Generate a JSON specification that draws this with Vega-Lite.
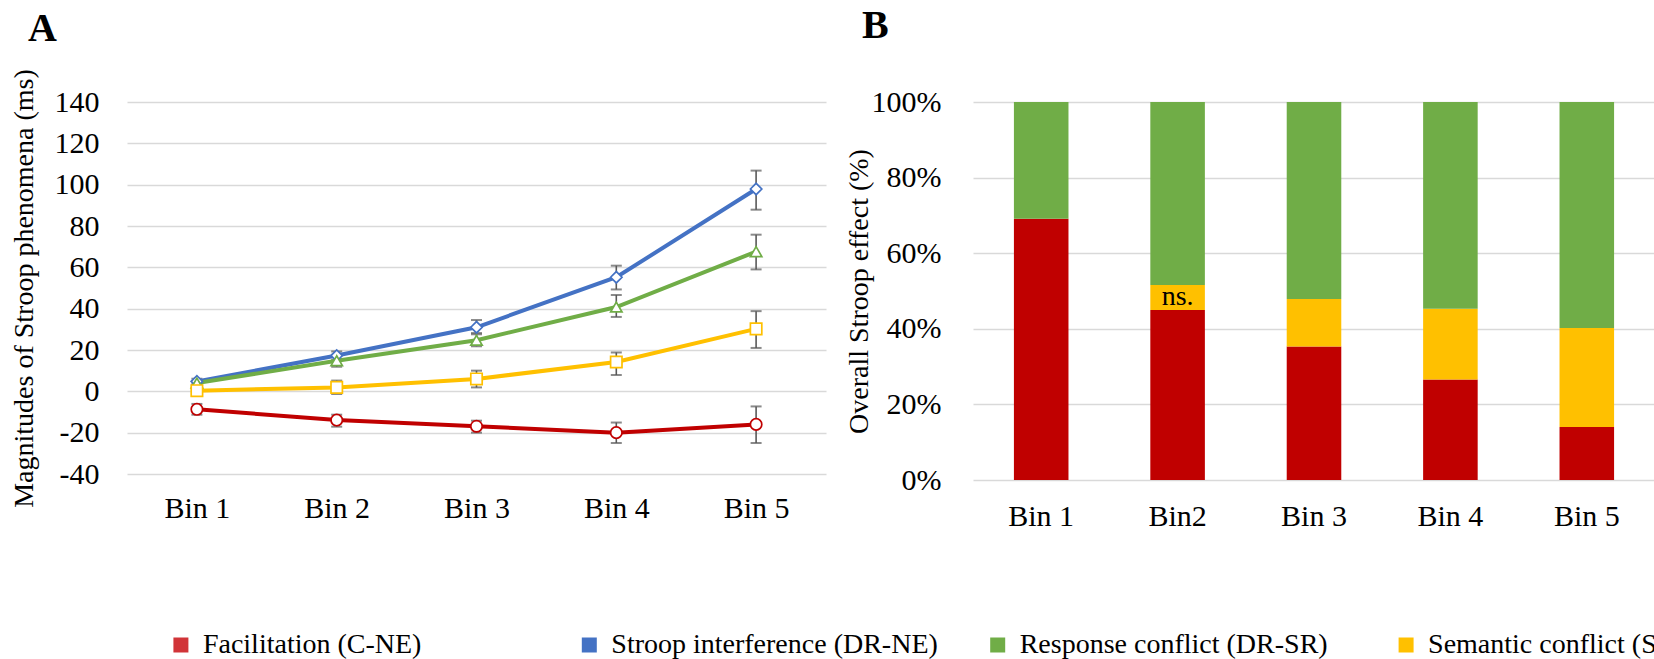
{
  "$schema": "https://vega.github.io/schema/vega-lite/v6.json",
  "padding": {"left": 10, "top": 6, "right": 0, "bottom": 0},
  "background": "white",
  "config": {
    "font": "Liberation Serif",
    "view": {"stroke": null},
    "axis": {
      "labelFont": "Liberation Serif",
      "titleFont": "Liberation Serif",
      "labelFontSize": 30,
      "titleFontSize": 28,
      "titleFontWeight": "normal",
      "labelColor": "#000000",
      "titleColor": "#000000",
      "domain": false,
      "ticks": false,
      "gridColor": "#D9D9D9",
      "gridWidth": 1.3
    },
    "title": {
      "font": "Liberation Serif",
      "fontSize": 40,
      "fontWeight": "bold",
      "anchor": "start",
      "frame": "bounds",
      "color": "#000000"
    }
  },
  "datasets": {
    "lines": [
      {"bin": "Bin 1", "series": "Facilitation (C-NE)", "value": -8.7, "lo": -11.3, "hi": -6.1},
      {"bin": "Bin 2", "series": "Facilitation (C-NE)", "value": -13.9, "lo": -17.1, "hi": -11.3},
      {"bin": "Bin 3", "series": "Facilitation (C-NE)", "value": -16.9, "lo": -20.0, "hi": -14.2},
      {"bin": "Bin 4", "series": "Facilitation (C-NE)", "value": -20.0, "lo": -25.0, "hi": -15.1},
      {"bin": "Bin 5", "series": "Facilitation (C-NE)", "value": -16.0, "lo": -25.0, "hi": -7.3},
      {"bin": "Bin 1", "series": "Stroop interference (DR-NE)", "value": 4.8, "lo": 3.5, "hi": 6.1},
      {"bin": "Bin 2", "series": "Stroop interference (DR-NE)", "value": 17.3, "lo": 15.3, "hi": 19.3},
      {"bin": "Bin 3", "series": "Stroop interference (DR-NE)", "value": 31.0, "lo": 28.2, "hi": 34.5},
      {"bin": "Bin 4", "series": "Stroop interference (DR-NE)", "value": 55.2, "lo": 49.3, "hi": 60.8},
      {"bin": "Bin 5", "series": "Stroop interference (DR-NE)", "value": 97.9, "lo": 87.9, "hi": 106.8},
      {"bin": "Bin 1", "series": "Response conflict (DR-SR)", "value": 4.0, "lo": 3.0, "hi": 5.0},
      {"bin": "Bin 2", "series": "Response conflict (DR-SR)", "value": 14.8, "lo": 11.9, "hi": 17.7},
      {"bin": "Bin 3", "series": "Response conflict (DR-SR)", "value": 24.7, "lo": 21.8, "hi": 27.6},
      {"bin": "Bin 4", "series": "Response conflict (DR-SR)", "value": 40.8, "lo": 36.0, "hi": 46.6},
      {"bin": "Bin 5", "series": "Response conflict (DR-SR)", "value": 67.6, "lo": 59.0, "hi": 75.8},
      {"bin": "Bin 1", "series": "Semantic conflict (SR-NE)", "value": 0.3, "lo": -0.8, "hi": 1.4},
      {"bin": "Bin 2", "series": "Semantic conflict (SR-NE)", "value": 1.9, "lo": -1.3, "hi": 5.2},
      {"bin": "Bin 3", "series": "Semantic conflict (SR-NE)", "value": 6.0, "lo": 1.9, "hi": 10.0},
      {"bin": "Bin 4", "series": "Semantic conflict (SR-NE)", "value": 14.2, "lo": 7.9, "hi": 18.8},
      {"bin": "Bin 5", "series": "Semantic conflict (SR-NE)", "value": 30.2, "lo": 21.0, "hi": 38.8}
    ],
    "bars": [
      {"bin": "Bin 1", "series": "Facilitation (C-NE)", "start": 0, "end": 69.1},
      {"bin": "Bin 1", "series": "Response conflict (DR-SR)", "start": 69.1, "end": 100},
      {"bin": "Bin2", "series": "Facilitation (C-NE)", "start": 0, "end": 45.0},
      {"bin": "Bin2", "series": "Semantic conflict (SR-NE)", "start": 45.0, "end": 51.6},
      {"bin": "Bin2", "series": "Response conflict (DR-SR)", "start": 51.6, "end": 100},
      {"bin": "Bin 3", "series": "Facilitation (C-NE)", "start": 0, "end": 35.3},
      {"bin": "Bin 3", "series": "Semantic conflict (SR-NE)", "start": 35.3, "end": 47.9},
      {"bin": "Bin 3", "series": "Response conflict (DR-SR)", "start": 47.9, "end": 100},
      {"bin": "Bin 4", "series": "Facilitation (C-NE)", "start": 0, "end": 26.6},
      {"bin": "Bin 4", "series": "Semantic conflict (SR-NE)", "start": 26.6, "end": 45.3},
      {"bin": "Bin 4", "series": "Response conflict (DR-SR)", "start": 45.3, "end": 100},
      {"bin": "Bin 5", "series": "Facilitation (C-NE)", "start": 0, "end": 14.0},
      {"bin": "Bin 5", "series": "Semantic conflict (SR-NE)", "start": 14.0, "end": 40.2},
      {"bin": "Bin 5", "series": "Response conflict (DR-SR)", "start": 40.2, "end": 100}
    ],
    "legendItems": [
      {"series": "Facilitation (C-NE)"},
      {"series": "Stroop interference (DR-NE)"},
      {"series": "Response conflict (DR-SR)"},
      {"series": "Semantic conflict (SR-NE)"}
    ]
  },
  "spacing": 99,
  "align": "none",
  "vconcat": [
    {
      "spacing": 19,
      "hconcat": [
        {
          "title": {"text": "A", "dx": 18, "offset": 20},
          "width": 699,
          "height": 372,
          "data": {"name": "lines"},
          "encoding": {
            "x": {
              "field": "bin",
              "type": "ordinal",
              "sort": null,
              "scale": {"type": "point", "padding": 0.5},
              "axis": {"title": null, "labelAngle": 0, "labelPadding": 19, "grid": false}
            }
          },
          "layer": [
            {
              "mark": {"type": "rule", "color": "#595959", "strokeWidth": 1.6},
              "encoding": {
                "y": {
                  "field": "lo",
                  "type": "quantitative",
                  "scale": {"domain": [-40, 140], "nice": false, "zero": false},
                  "axis": {
                    "title": "Magnitudes of Stroop phenomena (ms)",
                    "values": [-40, -20, 0, 20, 40, 60, 80, 100, 120, 140],
                    "labelExpr": "'' + datum.value",
                    "labelPadding": 28,
                    "titlePadding": 16,
                    "grid": true
                  }
                },
                "y2": {"field": "hi"}
              }
            },
            {
              "mark": {"type": "tick", "color": "#595959", "size": 11, "thickness": 2},
              "encoding": {"y": {"field": "lo", "type": "quantitative"}}
            },
            {
              "mark": {"type": "tick", "color": "#595959", "size": 11, "thickness": 2},
              "encoding": {"y": {"field": "hi", "type": "quantitative"}}
            },
            {
              "mark": {"type": "line", "strokeWidth": 4},
              "encoding": {
                "y": {"field": "value", "type": "quantitative"},
                "stroke": {
                  "field": "series",
                  "type": "nominal",
                  "scale": {
                    "domain": ["Facilitation (C-NE)", "Stroop interference (DR-NE)", "Response conflict (DR-SR)", "Semantic conflict (SR-NE)"],
                    "range": ["#C00000", "#4472C4", "#70AD47", "#FFC000"]
                  },
                  "legend": null
                }
              }
            },
            {
              "mark": {"type": "point", "filled": false, "fill": "#FFFFFF", "fillOpacity": 1, "opacity": 1, "strokeWidth": 1.7, "size": 130},
              "encoding": {
                "y": {"field": "value", "type": "quantitative"},
                "stroke": {"field": "series", "type": "nominal", "legend": null},
                "shape": {
                  "field": "series",
                  "type": "nominal",
                  "scale": {
                    "domain": ["Facilitation (C-NE)", "Stroop interference (DR-NE)", "Response conflict (DR-SR)", "Semantic conflict (SR-NE)"],
                    "range": ["circle", "diamond", "triangle-up", "square"]
                  },
                  "legend": null
                }
              }
            }
          ]
        },
        {
          "title": {"text": "B", "dx": 17, "offset": 41},
          "width": 682,
          "height": 378,
          "layer": [
            {
              "data": {"name": "bars"},
              "mark": {"type": "bar"},
              "encoding": {
                "x": {
                  "field": "bin",
                  "type": "ordinal",
                  "sort": null,
                  "scale": {"domain": ["Bin 1", "Bin2", "Bin 3", "Bin 4", "Bin 5"], "paddingInner": 0.6, "paddingOuter": 0.3},
                  "axis": {"title": null, "labelAngle": 0, "labelPadding": 21, "grid": false}
                },
                "y": {
                  "field": "start",
                  "type": "quantitative",
                  "scale": {"domain": [0, 100], "nice": false},
                  "axis": {
                    "title": "Overall Stroop effect (%)",
                    "values": [0, 20, 40, 60, 80, 100],
                    "labelExpr": "datum.value + '%'",
                    "labelPadding": 32,
                    "titlePadding": -2,
                    "grid": true
                  }
                },
                "y2": {"field": "end"},
                "color": {
                  "field": "series",
                  "type": "nominal",
                  "scale": {
                    "domain": ["Facilitation (C-NE)", "Stroop interference (DR-NE)", "Response conflict (DR-SR)", "Semantic conflict (SR-NE)"],
                    "range": ["#C00000", "#4472C4", "#70AD47", "#FFC000"]
                  },
                  "legend": null
                }
              }
            },
            {
              "data": {"values": [{"bin": "Bin2", "label": "ns.", "pos": 48.3}]},
              "mark": {"type": "text", "fontSize": 28, "font": "Liberation Serif", "color": "#000000", "baseline": "middle", "align": "center"},
              "encoding": {
                "x": {"field": "bin", "type": "ordinal", "sort": null},
                "y": {"field": "pos", "type": "quantitative"},
                "text": {"field": "label"}
              }
            }
          ]
        }
      ]
    },
    {
      "width": 1333,
      "height": 30,
      "view": {"fill": "#FFFFFF", "stroke": null},
      "data": {"name": "legendItems"},
      "encoding": {
        "x": {
          "field": "series",
          "type": "nominal",
          "sort": null,
          "scale": {
            "type": "point",
            "padding": 0.132,
            "domain": ["Facilitation (C-NE)", "Stroop interference (DR-NE)", "Response conflict (DR-SR)", "Semantic conflict (SR-NE)"]
          },
          "axis": null
        }
      },
      "layer": [
        {
          "mark": {"type": "square", "size": 225, "filled": true, "opacity": 1},
          "encoding": {
            "fill": {
              "field": "series",
              "type": "nominal",
              "scale": {
                "domain": ["Facilitation (C-NE)", "Stroop interference (DR-NE)", "Response conflict (DR-SR)", "Semantic conflict (SR-NE)"],
                "range": ["#D13438", "#4472C4", "#70AD47", "#FFC000"]
              },
              "legend": null
            }
          }
        },
        {
          "mark": {"type": "text", "align": "left", "baseline": "middle", "dx": 22, "fontSize": 28, "font": "Liberation Serif", "color": "#000000"},
          "encoding": {"text": {"field": "series"}}
        }
      ]
    }
  ]
}
